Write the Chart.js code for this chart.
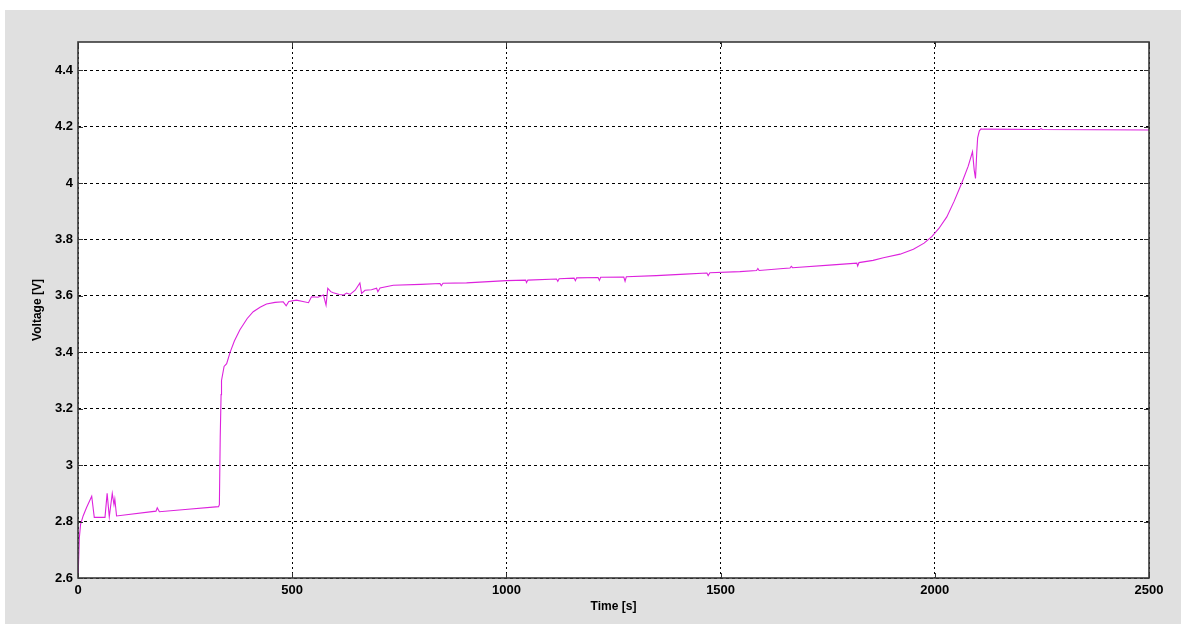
<!DOCTYPE html>
<html>
<head>
<meta charset="utf-8">
<title>Voltage vs Time</title>
<script src="https://cdn.jsdelivr.net/npm/chart.js@4.4.0/dist/chart.umd.min.js"></script>
<style>
    html, body { margin: 0; padding: 0; background: #fff; }
    #frame {
        position: absolute;
        left: 5px;
        top: 10px;
        width: 1176px;
        height: 614px;
        background: #e0e0e0;
    }
    canvas { display: block; }
</style>
</head>
<body>
<div id="frame"><canvas id="voltChart" width="1176" height="614"></canvas></div>
<script>
// valores
const timeS = [
    0, 1, 3, 6, 12, 20, 32, 38, 63, 68, 73, 80, 84, 86, 90,
    182, 185, 190, 250, 328, 330, 332, 334, 335, 341, 347, 355, 365, 378, 395,
    409, 425, 440, 460, 479, 486, 492, 510, 525, 538, 545, 560, 573, 579, 583,
    590, 596, 610, 620, 627, 635, 647, 658, 662, 670, 685, 697, 700, 705, 736,
    800, 845, 848, 852, 907, 1000, 1045, 1047, 1050, 1117, 1120, 1123, 1158, 1161, 1164,
    1214, 1217, 1220, 1274, 1277, 1280, 1350, 1417, 1468, 1471, 1475, 1545, 1584, 1587, 1590,
    1646, 1662, 1665, 1668, 1762, 1818, 1820, 1823, 1856, 1880, 1919, 1950, 1975, 1993, 2010,
    2028, 2045, 2063, 2078, 2088, 2092, 2095, 2098, 2100, 2104, 2108, 2113, 2245, 2248, 2251,
    2500
];
const voltageV = [
    2.60, 2.64, 2.74, 2.79, 2.82, 2.85, 2.89, 2.815, 2.815, 2.90, 2.817, 2.90, 2.86, 2.88, 2.82,
    2.837, 2.849, 2.835, 2.843, 2.853, 2.86, 3.10, 3.25, 3.30, 3.35, 3.36, 3.40, 3.44, 3.48, 3.52,
    3.544, 3.56, 3.571, 3.577, 3.579, 3.565, 3.58, 3.585, 3.58, 3.576, 3.597, 3.595, 3.603, 3.567, 3.627,
    3.615, 3.611, 3.605, 3.603, 3.61, 3.605, 3.62, 3.646, 3.609, 3.62, 3.622, 3.627, 3.615, 3.628, 3.638,
    3.641, 3.644, 3.636, 3.645, 3.646, 3.654, 3.656, 3.647, 3.656, 3.66, 3.652, 3.661, 3.663, 3.654, 3.664,
    3.665, 3.655, 3.666, 3.667, 3.652, 3.668, 3.672, 3.677, 3.681, 3.672, 3.682, 3.686, 3.69, 3.697, 3.69,
    3.697, 3.699, 3.705, 3.70, 3.71, 3.716, 3.706, 3.718, 3.726, 3.735, 3.748, 3.765, 3.787, 3.81, 3.84,
    3.88, 3.935, 4.0, 4.06, 4.111, 4.046, 4.016, 4.111, 4.16, 4.185, 4.192, 4.191, 4.19, 4.193, 4.19,
    4.188
];
const xTicks = [0, 500, 1000, 1500, 2000, 2500];
const yTicks = [2.6, 2.8, 3, 3.2, 3.4, 3.6, 3.8, 4, 4.2, 4.4];

const points = timeS.map((t, i) => ({ x: t, y: voltageV[i] }));

// fondo blanco del área + marco y marcas interiores estilo MATLAB
const plotBox = {
    id: 'plotBox',
    beforeDraw(chart) {
        const { ctx, chartArea: a } = chart;
        ctx.save();
        ctx.fillStyle = '#fff';
        ctx.fillRect(a.left, a.top, a.right - a.left, a.bottom - a.top);
        ctx.restore();
    },
    afterDraw(chart) {
        const { ctx, chartArea: a, scales } = chart;
        const len = 5;
        ctx.save();
        ctx.strokeStyle = '#333';
        ctx.lineWidth = 1;
        ctx.beginPath();
        xTicks.forEach(v => {
            const px = Math.round(scales.x.getPixelForValue(v)) + 0.5;
            ctx.moveTo(px, a.bottom); ctx.lineTo(px, a.bottom - len);
            ctx.moveTo(px, a.top); ctx.lineTo(px, a.top + len);
        });
        yTicks.forEach(v => {
            const py = Math.round(scales.y.getPixelForValue(v)) + 0.5;
            ctx.moveTo(a.left, py); ctx.lineTo(a.left + len, py);
            ctx.moveTo(a.right, py); ctx.lineTo(a.right - len, py);
        });
        ctx.stroke();
        ctx.lineWidth = 1.6;
        ctx.strokeStyle = '#3a3a3a';
        ctx.strokeRect(a.left, a.top, a.right - a.left, a.bottom - a.top);
        ctx.restore();
    }
};

const tickFont = { family: '"Liberation Sans", Arial, sans-serif', size: 13, weight: 'bold' };
const titleFont = { family: '"Liberation Sans", Arial, sans-serif', size: 12, weight: 'bold' };

new Chart(document.getElementById('voltChart'), {
    type: 'line',
    data: {
        datasets: [{
            data: points,
            borderColor: '#dd22dd',
            borderWidth: 1.1,
            pointRadius: 0,
            tension: 0,
            fill: false
        }]
    },
    options: {
        responsive: false,
        animation: false,
        layout: { padding: { left: 0, right: 32, top: 32, bottom: 0 } },
        plugins: { legend: { display: false }, tooltip: { enabled: false } },
        scales: {
            x: {
                type: 'linear',
                min: 0,
                max: 2500,
                afterFit: s => { s.height = 46; },
                afterBuildTicks: s => { s.ticks = xTicks.map(v => ({ value: v })); },
                ticks: { color: '#000', font: tickFont, padding: 5, maxRotation: 0, callback: v => String(v) },
                grid: { color: '#000', lineWidth: 1, drawTicks: false },
                border: { display: false, dash: [2, 3] },
                title: { display: true, text: 'Time [s]', color: '#000', font: titleFont, padding: { top: 0, bottom: 10 } }
            },
            y: {
                type: 'linear',
                min: 2.6,
                max: 4.5,
                afterFit: s => { s.width = 73; },
                afterBuildTicks: s => { s.ticks = yTicks.map(v => ({ value: v })); },
                ticks: {
                    color: '#000',
                    font: tickFont,
                    padding: 5,
                    callback: v => String(+v.toFixed(1))
                },
                grid: { color: '#000', lineWidth: 1, drawTicks: false },
                border: { display: false, dash: [3, 3] },
                title: { display: true, text: 'Voltage [V]', color: '#000', font: titleFont, padding: { top: 25, bottom: 0 } }
            }
        }
    },
    plugins: [plotBox]
});
</script>
</body>
</html>
